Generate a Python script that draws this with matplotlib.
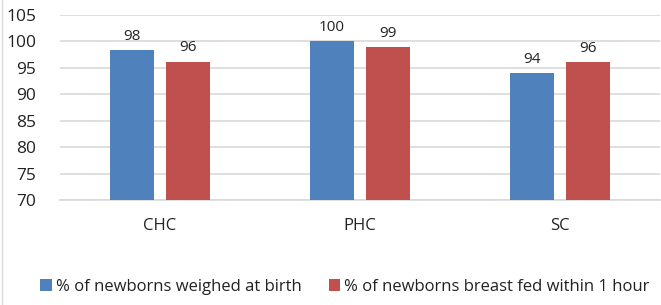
import matplotlib
matplotlib.use("Agg")
import matplotlib.pyplot as plt
import numpy as np

categories = ["CHC", "PHC", "SC"]
weighed = [98.3, 100.1, 94.0]
breastfed = [96.2, 98.9, 96.1]
weighed_labels = ["98", "100", "94"]
breastfed_labels = ["96", "99", "96"]
series_names = ["% of newborns weighed at birth", "% of newborns breast fed within 1 hour"]
yticks = [70, 75, 80, 85, 90, 95, 100, 105]

plt.rcParams['font.family'] = ['Open Sans', 'DejaVu Sans']
W, H = 661, 305
fig = plt.figure(figsize=(W/100, H/100), dpi=100)
ax = fig.add_axes([60/W, 1-200/H, 600/W, 185/H])

x = np.arange(len(categories))
bw = 0.22
gap = 0.06
blue = "#4F81BD"
red = "#C0504D"
b1 = ax.bar(x - (bw+gap)/2, [v-70 for v in weighed], bw, bottom=70, color=blue, label=series_names[0], zorder=3)
b2 = ax.bar(x + (bw+gap)/2, [v-70 for v in breastfed], bw, bottom=70, color=red, label=series_names[1], zorder=3)
for rect, lab in zip(b1, weighed_labels):
    ax.text(rect.get_x()+rect.get_width()/2, rect.get_y()+rect.get_height()+1.2, lab,
            ha='center', va='bottom', fontsize=11, color='#222222')
for rect, lab in zip(b2, breastfed_labels):
    ax.text(rect.get_x()+rect.get_width()/2, rect.get_y()+rect.get_height()+1.2, lab,
            ha='center', va='bottom', fontsize=11, color='#222222')

ax.set_xlim(-0.5, 2.5)
ax.set_ylim(70, 105)
ax.set_yticks(yticks)
ax.set_yticklabels([str(t) for t in yticks], fontsize=12.5)
ax.set_xticks(x)
ax.set_xticklabels(categories, fontsize=12)
ax.tick_params(axis='both', length=0, colors='#222222')
ax.tick_params(axis='x', pad=13)
ax.tick_params(axis='y', pad=17)
ax.grid(axis='y', color='#D9D9D9', linewidth=1.2, zorder=0)
for s in ['top', 'right', 'left']:
    ax.spines[s].set_visible(False)
ax.spines['bottom'].set_color('#D9D9D9')
ax.spines['bottom'].set_linewidth(1.2)

leg = fig.legend(loc='center', bbox_to_anchor=(345/W, 1-287/H), ncol=2, frameon=False,
                 fontsize=12, handlelength=0.7, handleheight=0.7, handletextpad=0.25,
                 columnspacing=1.6, labelcolor='#222222')

# outer chart border on left
fig.add_artist(plt.Line2D([1.5/W, 1.5/W], [0, 1], color='#D9D9D9', linewidth=1, transform=fig.transFigure))

fig.savefig("out.png", dpi=100)
